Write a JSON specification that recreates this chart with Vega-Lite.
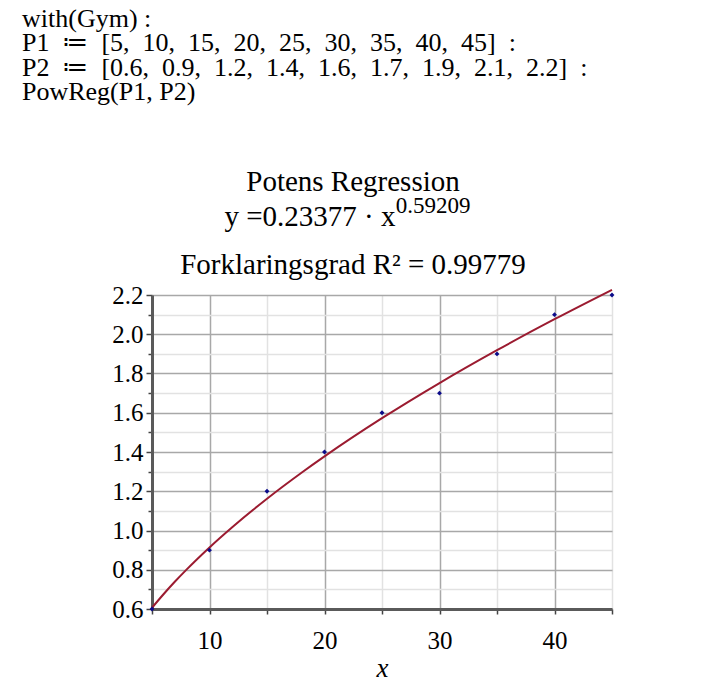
{
  "$schema": "https://vega.github.io/schema/vega-lite/v6.json",
  "background": "white",
  "padding": {"left": 22, "top": 5, "right": 20, "bottom": 2},
  "datasets": {
    "points": [
      {"P1": 5, "P2": 0.6}, {"P1": 10, "P2": 0.9}, {"P1": 15, "P2": 1.2},
      {"P1": 20, "P2": 1.4}, {"P1": 25, "P2": 1.6}, {"P1": 30, "P2": 1.7},
      {"P1": 35, "P2": 1.9}, {"P1": 40, "P2": 2.1}, {"P1": 45, "P2": 2.2}
    ],
    "curve": [
      {"x": 5, "y": 0.6063}, {"x": 6, "y": 0.6753}, {"x": 7, "y": 0.7399},
      {"x": 8, "y": 0.8008}, {"x": 10, "y": 0.9139}, {"x": 12, "y": 1.0180},
      {"x": 15, "y": 1.1619}, {"x": 18, "y": 1.2943}, {"x": 20, "y": 1.3776},
      {"x": 25, "y": 1.5722}, {"x": 30, "y": 1.7514}, {"x": 35, "y": 1.9188},
      {"x": 40, "y": 2.0767}, {"x": 45, "y": 2.2266}
    ]
  },
  "title": {
    "text": ["with(Gym) :", "P1\u2002≔\u2002[5,\u200210,\u200215,\u200220,\u200225,\u200230,\u200235,\u200240,\u200245]\u2002:", "P2\u2002≔\u2002[0.6,\u20020.9,\u20021.2,\u20021.4,\u20021.6,\u20021.7,\u20021.9,\u20022.1,\u20022.2]\u2002:", "PowReg(P1, P2)"],
    "anchor": "start",
    "font": "Liberation Serif",
    "fontSize": 26,
    "fontWeight": "normal",
    "color": "#000000",
    "lineHeight": 24.5,
    "offset": 63
  },
  "vconcat": [
    {
      "title": {
        "text": "0.59209",
        "anchor": "middle",
        "dx": 114,
        "dy": 90,
        "font": "Liberation Serif",
        "fontSize": 23,
        "fontWeight": "normal",
        "color": "#000000",
        "offset": 40
      },
      "vconcat": [
        {
          "width": 460,
          "height": 314,
          "title": {
            "text": ["Potens Regression", "y =0.23377 · x\u00a0\u00a0\u00a0\u00a0\u00a0\u00a0\u00a0\u00a0\u00a0\u2800"],
            "subtitle": "Forklaringsgrad R² = 0.99779",
            "anchor": "middle",
            "dx": -29,
            "font": "Liberation Serif",
            "fontSize": 29,
            "fontWeight": "normal",
            "color": "#000000",
            "lineHeight": 35,
            "subtitleFont": "Liberation Serif",
            "subtitleFontSize": 29,
            "subtitleColor": "#000000",
            "subtitlePadding": 19,
            "offset": 3
          },
          "layer": [
            {
              "data": {"name": "curve"},
              "mark": {"type": "line", "color": "#9b1b30", "strokeWidth": 2, "interpolate": "monotone", "clip": false},
              "encoding": {
                "x": {
                  "field": "x", "type": "quantitative",
                  "scale": {"domain": [5, 45], "nice": false, "zero": false},
                  "axis": {
                    "values": [5, 10, 15, 20, 25, 30, 35, 40, 45],
                    "tickCount": 50,
                    "labelExpr": "datum.value % 10 == 0 ? datum.label : ''",
                    "labelOverlap": false,
                    "title": "x",
                    "titleFont": "Liberation Serif",
                    "titleFontStyle": "italic",
                    "titleFontWeight": "normal",
                    "titleFontSize": 27,
                    "titleColor": "#000000",
                    "titlePadding": 2,
                    "labelFont": "Liberation Serif",
                    "labelFontSize": 25,
                    "labelColor": "#000000",
                    "labelPadding": 14,
                    "domainColor": "#5a5a5a",
                    "domainWidth": 3,
                    "tickColor": "#444444",
                    "tickSize": 5,
                    "tickWidth": 1.5,
                    "grid": true,
                    "gridColor": {"condition": {"test": "datum.value % 10 == 0", "value": "#a8a8a8"}, "value": "#e2e2e2"},
                    "gridWidth": 1.5
                  }
                },
                "y": {
                  "field": "y", "type": "quantitative",
                  "scale": {"domain": [0.6, 2.2], "nice": false, "zero": false},
                  "axis": {
                    "values": [0.6, 0.7, 0.8, 0.9, 1.0, 1.1, 1.2, 1.3, 1.4, 1.5, 1.6, 1.7, 1.8, 1.9, 2.0, 2.1, 2.2],
                    "tickCount": 50,
                    "labelExpr": "round(datum.value * 10) % 2 == 0 ? format(datum.value, '.1f') : ''",
                    "labelOverlap": false,
                    "title": null,
                    "labelFont": "Liberation Serif",
                    "labelFontSize": 25,
                    "labelColor": "#000000",
                    "labelPadding": 3,
                    "minExtent": 130,
                    "maxExtent": 130,
                    "domainColor": "#5a5a5a",
                    "domainWidth": 3,
                    "tickColor": "#444444",
                    "tickSize": {"condition": {"test": "round(datum.value * 10) % 2 == 0", "value": 6}, "value": 4},
                    "tickWidth": 1.5,
                    "grid": true,
                    "gridColor": {"condition": {"test": "round(datum.value * 10) % 2 == 0", "value": "#a8a8a8"}, "value": "#e2e2e2"},
                    "gridWidth": 1.5
                  }
                }
              }
            },
            {
              "data": {"name": "points"},
              "mark": {"type": "point", "shape": "diamond", "filled": true, "color": "#0b0b8a", "size": 24, "opacity": 1, "clip": false},
              "encoding": {
                "x": {"field": "P1", "type": "quantitative"},
                "y": {"field": "P2", "type": "quantitative"}
              }
            }
          ]
        }
      ]
    }
  ],
  "config": {
    "view": {"stroke": null},
    "font": "Liberation Serif",
    "concat": {"spacing": 0}
  }
}
